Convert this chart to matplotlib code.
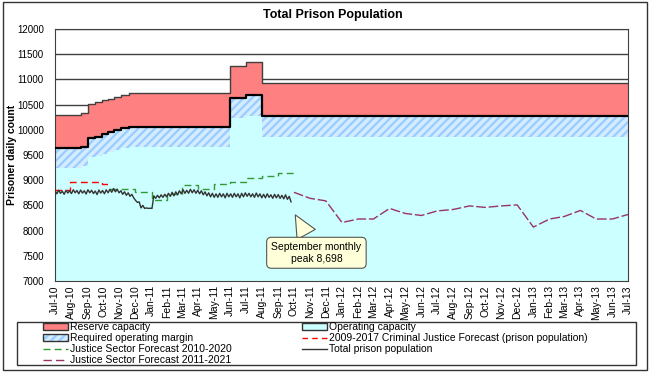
import matplotlib
matplotlib.use('Agg')
import matplotlib.pyplot as plt
import matplotlib.dates as mdates
from matplotlib.patches import Patch, Rectangle
from matplotlib.lines import Line2D
import numpy as np
import pandas as pd

plt.rcParams['font.family'] = ['Liberation Sans', 'DejaVu Sans']
plt.rcParams['hatch.linewidth'] = 1.6

# capacity steps (operating capacity, reserve on top, required margin below)
cap_dates = ['2010-07-01', '2010-08-19', '2010-09-02', '2010-09-16', '2010-09-28',
             '2010-10-10', '2010-10-22', '2010-11-04', '2010-11-19', '2011-06-01',
             '2011-07-01', '2011-08-01', '2013-07-01']
operating_capacity = [9630, 9665, 9832, 9865, 9910, 9950, 9995, 10030, 10065,
                      10625, 10690, 10274, 10274]
reserve_capacity = [660, 662, 674, 690, 680, 670, 665, 665, 665, 647, 661, 656, 656]
operating_margin = [382, 382, 378, 385, 390, 395, 398, 398, 398, 397, 416, 410, 410]

# total prison population, half-weekly readings from 1 Jul 2010
pop_start = '2010-07-01'
prison_population = [
    8790, 8730, 8800, 8740, 8780, 8720, 8800, 8745, 8790, 8735,
    8810, 8750, 8795, 8730, 8805, 8745, 8790, 8725,
    8810, 8750, 8800, 8735, 8785, 8715, 8805, 8745, 8795, 8730,
    8810, 8750, 8820, 8760, 8835, 8770, 8820, 8750,
    8790, 8720, 8770, 8700, 8750, 8680, 8720, 8650,
    8600, 8560, 8570, 8450, 8500, 8440, 8450, 8440, 8445, 8440,
    8690, 8640, 8700, 8650, 8710, 8660, 8720, 8670,
    8740, 8680, 8760, 8690, 8770, 8710, 8790, 8730,
    8810, 8740, 8800, 8740, 8820, 8750, 8810, 8740, 8800, 8730,
    8790, 8710, 8770, 8690, 8750, 8670, 8740, 8660,
    8730, 8660, 8740, 8670, 8730, 8650, 8740, 8670,
    8730, 8660, 8740, 8670, 8730, 8650, 8740, 8670, 8750, 8680,
    8740, 8670, 8730, 8660, 8745, 8670, 8730, 8650,
    8720, 8650, 8730, 8660, 8710, 8640, 8720, 8650,
    8715, 8640, 8700, 8630, 8710, 8620, 8680, 8570,
]

# forecasts
cjf_dates = ['2010-07-01', '2010-07-30', '2010-09-29', '2010-10-14']
cjf_values = [8815, 8955, 8925, 8925]

jsf10_dates = ['2010-10-15', '2010-12-01', '2011-01-03', '2011-02-01', '2011-03-01',
               '2011-04-01', '2011-05-01', '2011-06-01', '2011-07-01', '2011-08-01',
               '2011-09-01', '2011-10-01']
jsf10_values = [8830, 8760, 8610, 8720, 8905, 8835, 8925, 8960, 9035, 9075, 9135, 9135]

jsf11_start = '2011-10-01'
jsf11_values = [8760, 8640, 8590, 8160, 8230, 8230, 8440, 8340, 8300, 8390, 8420,
                8490, 8460, 8490, 8510, 8070, 8230, 8280, 8400, 8230, 8230, 8320]

yticks = np.arange(7000, 12001, 500)

fig = plt.figure(figsize=(6.5, 3.72), dpi=100)
ax = fig.add_axes([55/650, 1 - 281/372, (628 - 55)/650, (281 - 29)/372])

x = pd.to_datetime(cap_dates)
cap = np.array(operating_capacity)
res = np.array(reserve_capacity)
mar = np.array(operating_margin)

ax.fill_between(x, 7000, cap, step='post', facecolor='#ccffff', lw=0, zorder=1)
ax.fill_between(x, cap - mar, cap, step='post', facecolor='#d4ecff',
                edgecolor='#99ccff', hatch='////', lw=0, zorder=2)
ax.fill_between(x, cap, cap + res, step='post', facecolor='#ff8080', lw=0, zorder=2)
ax.step(x, cap, where='post', color='black', lw=1.6, zorder=3)
ax.step(x, cap + res, where='post', color='#404040', lw=1, zorder=3)

# population and forecasts
px = pd.date_range(pop_start, periods=len(prison_population), freq='84h')
ax.plot(px, prison_population, color='#333333', lw=1, zorder=5)
ax.plot(pd.to_datetime(cjf_dates), cjf_values, color='#ff0000', lw=1,
        dashes=(5, 3), drawstyle='steps-post', zorder=4)
ax.plot(pd.to_datetime(jsf10_dates), jsf10_values, color='#339933', lw=1,
        dashes=(5, 3), drawstyle='steps-post', zorder=4)
jx = pd.date_range(jsf11_start, periods=len(jsf11_values), freq='MS')
ax.plot(jx, jsf11_values, color='#993366', lw=1, dashes=(7, 2), zorder=4)

ax.annotate('September monthly\npeak 8,698', xy=(pd.Timestamp('2011-10-01'), 8360),
            xytext=(pd.Timestamp('2011-11-13'), 7560), ha='center', va='center',
            fontsize=7.5,
            bbox=dict(boxstyle='round,pad=0.45', fc='#ffffd9', ec='#555555', lw=0.8),
            arrowprops=dict(arrowstyle='wedge,tail_width=2.0', fc='#ffffd9',
                            ec='#555555', lw=0.8),
            zorder=6)

ax.set_ylim(7000, 12000)
ax.set_xlim(pd.Timestamp('2010-07-01'), pd.Timestamp('2013-07-01'))
ax.set_yticks(yticks)
ax.yaxis.grid(True, color='#404040', lw=1)
ax.set_axisbelow(True)
ax.xaxis.set_major_locator(mdates.MonthLocator())
ax.xaxis.set_major_formatter(mdates.DateFormatter('%b-%y'))
plt.setp(ax.get_xticklabels(), rotation=90, fontsize=7.5)
plt.setp(ax.get_yticklabels(), fontsize=7)
ax.tick_params(axis='y', length=0, pad=8)
ax.tick_params(axis='x', length=0, pad=3)
for s in ax.spines.values():
    s.set_color('#404040')

fig.text(0.512, 0.96, 'Total Prison Population', ha='center', va='center',
         fontsize=9, fontweight='bold')
fig.text(0.019, 0.585, 'Prisoner daily count', rotation=90, ha='center', va='center',
         fontsize=7.5, fontweight='bold')

# legend box and entries
fig.patches.append(Rectangle((17/650, 1 - 365/372), (636 - 17)/650, (365 - 322)/372,
                             transform=fig.transFigure, fc='white', ec='#333333', lw=1))
fig.patches.append(Rectangle((0.004, 0.005), 0.992, 0.99, transform=fig.transFigure,
                             fill=False, ec='#333333', lw=1))

handles = [
    Patch(fc='#ff8080', ec='#333333', lw=1),
    (Patch(fc='#d4ecff', ec='#99ccff', hatch='////', lw=0),
     Patch(fill=False, ec='#333333', lw=1)),
    Line2D([], [], color='#339933', lw=1, dashes=(5, 3)),
    Line2D([], [], color='#993366', lw=1, dashes=(6, 3)),
    Patch(fc='#ccffff', ec='#333333', lw=1),
    Line2D([], [], color='#ff0000', lw=1, dashes=(4, 3)),
    Line2D([], [], color='#333333', lw=1),
]
labels = ['Reserve capacity', 'Required operating margin',
          'Justice Sector Forecast 2010-2020', 'Justice Sector Forecast 2011-2021',
          'Operating capacity', '2009-2017 Criminal Justice Forecast (prison population)',
          'Total prison population']
fig.legend(handles, labels, loc='upper left', bbox_to_anchor=(43/650, 1 - 322/372),
           ncol=2, frameon=False, fontsize=7.5, handlelength=2.4, handleheight=0.6,
           handletextpad=0.15, columnspacing=6.8, labelspacing=0.1,
           borderpad=0, borderaxespad=0)

fig.savefig('out.png', dpi=100)
